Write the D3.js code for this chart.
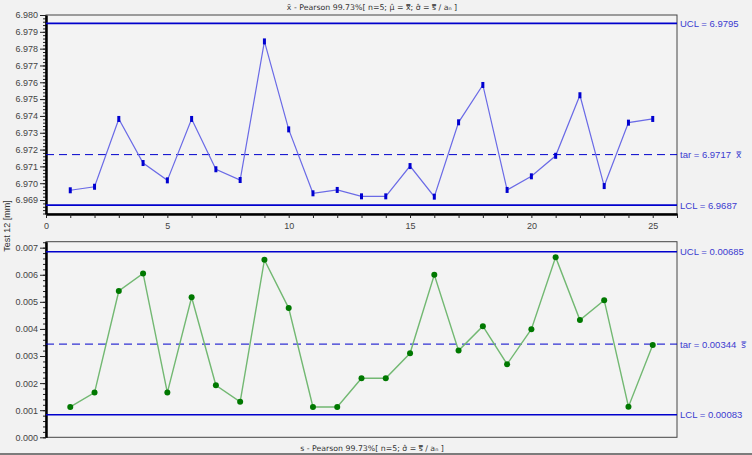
<!DOCTYPE html>
<html>
<head>
<meta charset="utf-8">
<script src="https://cdn.jsdelivr.net/npm/d3@7"></script>
<style>
  body { margin: 0; background: #f2f2f2; }
  svg { display: block; font-family: "Liberation Sans", Arial, sans-serif; }
</style>
</head>
<body>
<svg id="chart" width="752" height="455"></svg>
<script>
// subgroup numbers 1..25
const samples = [1,2,3,4,5,6,7,8,9,10,11,12,13,14,15,16,17,18,19,20,21,22,23,24,25];
// x-bar values
const xbar = [6.96958, 6.96979, 6.97382, 6.97120, 6.97017, 6.97382, 6.97083, 6.97019, 6.97843, 6.97320,
              6.96940, 6.96960, 6.96922, 6.96922, 6.97102, 6.96920, 6.97362, 6.97584, 6.96960, 6.97041,
              6.97163, 6.97523, 6.96983, 6.97360, 6.97382];
// s values
const sdev = [0.00112, 0.00165, 0.00540, 0.00605, 0.00165, 0.00517, 0.00192, 0.00131, 0.00655, 0.00477,
              0.00112, 0.00112, 0.00218, 0.00218, 0.00310, 0.00600, 0.00320, 0.00410, 0.00270, 0.00399,
              0.00665, 0.00433, 0.00506, 0.00113, 0.00341];

const xbarLimits = {ucl: 6.9795, tar: 6.9717, lcl: 6.9687};
const sLimits = {ucl: 0.00685, tar: 0.00344, lcl: 0.00083};

const xbarTicks = [6.969, 6.970, 6.971, 6.972, 6.973, 6.974, 6.975, 6.976, 6.977, 6.978, 6.979, 6.980];
const sTicks = [0.000, 0.001, 0.002, 0.003, 0.004, 0.005, 0.006, 0.007];
const xTicks = [0, 5, 10, 15, 20, 25];

const svg = d3.select("#chart");
const left = 46, right = 677;
const limitColor = "#0000cc", labelColor = "#3b3bd0";
const markFont = "DejaVu Sans";

const x = d3.scaleLinear().domain([0, 26]).range([left, right]);
const yTop = d3.scaleLinear().domain([6.96817, 6.980]).range([214, 15]);
const yBot = d3.scaleLinear().domain([0, 0.00722]).range([437.3, 241.7]);

// outer frame line at the bottom
svg.append("line").attr("x1", 0).attr("x2", 752).attr("y1", 454).attr("y2", 454)
  .attr("stroke", "#555").attr("stroke-width", 1.5);

function panel(y, ticks, fmt, limits, values, barLabel) {
  const top = y.range()[1], bottom = y.range()[0];
  const g = svg.append("g");

  g.append("rect").attr("x", left).attr("y", top)
    .attr("width", right - left).attr("height", bottom - top)
    .attr("fill", "#f3f3f3").attr("stroke", "#444").attr("stroke-width", 1);

  // minor y ticks
  const step = 0.0002;
  const minor = d3.range(Math.ceil(y.domain()[0] / step), Math.floor(y.domain()[1] / step) + 1).map(k => k * step);
  g.append("g").attr("transform", `translate(${left},0)`)
    .call(d3.axisLeft(y).tickValues(minor).tickSize(3).tickSizeOuter(0).tickFormat(""))
    .call(a => a.select(".domain").remove())
    .selectAll("line").attr("stroke", "#222");

  const ax = g.append("g").attr("transform", `translate(${left},0)`)
    .call(d3.axisLeft(y).tickValues(ticks).tickSize(6).tickSizeOuter(0).tickFormat(fmt));
  ax.select(".domain").attr("stroke", "#000").attr("stroke-width", 2.5);
  ax.selectAll("line").attr("stroke", "#222");
  ax.selectAll("text").attr("font-size", 9).attr("fill", "#444").attr("x", -8);

  // limit lines
  [["ucl", "UCL = "], ["tar", "tar = "], ["lcl", "LCL = "]].forEach(([k, name]) => {
    g.append("line").attr("x1", left).attr("x2", right)
      .attr("y1", y(limits[k])).attr("y2", y(limits[k]))
      .attr("stroke", limitColor)
      .attr("stroke-width", k === "tar" ? 1 : 1.6)
      .attr("stroke-dasharray", k === "tar" ? "8,5" : null);
    const t = g.append("text").attr("x", right + 3).attr("y", y(limits[k]) + 3.5)
      .attr("font-size", 9.5).attr("fill", labelColor)
      .text(name + limits[k]);
    if (k === "tar") {
      t.append("tspan").attr("dx", 5).attr("font-family", markFont).attr("font-size", 9)
        .text(barLabel);
    }
  });
  return g;
}

const gTop = panel(yTop, xbarTicks, d3.format(".3f"), xbarLimits, xbar, "x\u033F");
const gBot = panel(yBot, sTicks, d3.format(".3f"), sLimits, sdev, "s\u033F");

// x axis of the top chart
const xa = gTop.append("g").attr("transform", "translate(0,214)")
  .call(d3.axisBottom(x).tickValues(d3.range(0, 27)).tickSize(4).tickSizeOuter(0)
    .tickFormat(d => xTicks.includes(d) ? d : ""));
xa.select(".domain").attr("stroke", "#000").attr("stroke-width", 2.5);
xa.selectAll("line").attr("stroke", "#222");
xa.selectAll("text").attr("font-size", 9).attr("fill", "#444").attr("dy", "0.9em");

// x-bar series
gTop.append("path").datum(xbar)
  .attr("fill", "none").attr("stroke", "#6a6ae6").attr("stroke-width", 1.2)
  .attr("d", d3.line().x((d, i) => x(samples[i])).y(d => yTop(d)));
gTop.selectAll(".mk").data(xbar).enter().append("rect")
  .attr("x", (d, i) => x(samples[i]) - 1.5).attr("y", d => yTop(d) - 3)
  .attr("width", 3).attr("height", 6).attr("fill", "#0000d0");

// s series
gBot.append("path").datum(sdev)
  .attr("fill", "none").attr("stroke", "#72b872").attr("stroke-width", 1.4)
  .attr("d", d3.line().x((d, i) => x(samples[i])).y(d => yBot(d)));
gBot.selectAll(".mk").data(sdev).enter().append("circle")
  .attr("cx", (d, i) => x(samples[i])).attr("cy", d => yBot(d))
  .attr("r", 3).attr("fill", "#007800");

// titles
svg.append("text").attr("x", 372).attr("y", 10).attr("text-anchor", "middle")
  .attr("font-family", markFont).attr("font-size", 7.8).attr("fill", "#333")
  .text("x\u0304 - Pearson 99.73%[ n=5; \u03BC\u0302 = x\u033F; \u03C3\u0302 = s\u033F / a\u2099 ]");
svg.append("text").attr("x", 372).attr("y", 451).attr("text-anchor", "middle")
  .attr("font-family", markFont).attr("font-size", 7.8).attr("fill", "#333")
  .text("s - Pearson 99.73%[ n=5; \u03C3\u0302 = s\u033F / a\u2099 ]");

// y label
svg.append("text").attr("transform", "translate(10,226) rotate(-90)")
  .attr("text-anchor", "middle").attr("font-size", 9).attr("fill", "#333")
  .text("Test 12 [mm]");
</script>
</body>
</html>
